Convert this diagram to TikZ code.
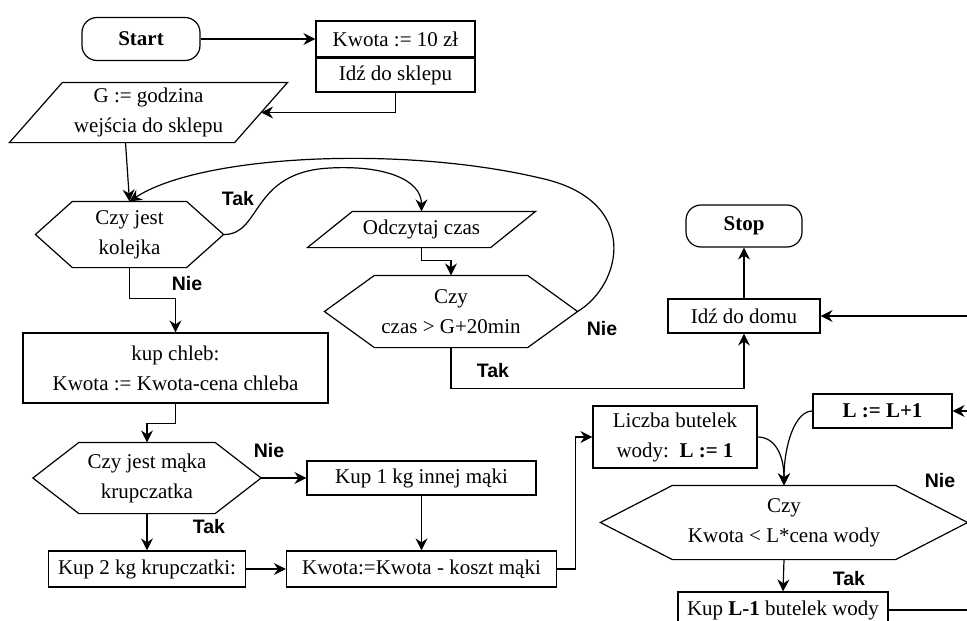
\documentclass[tikz,border=0pt]{standalone}
\usepackage{fontspec}
\setmainfont{Liberation Serif}
\newfontfamily\labelfont{Liberation Sans}
\usetikzlibrary{arrows.meta}

\tikzset{
  proc/.style={draw, rectangle, inner sep=0pt, align=center},
  term/.style={draw, rectangle, rounded corners=15pt, inner sep=0pt,
    font=\fontsize{21}{24}\selectfont\bfseries},
  txt/.style={inner sep=0pt, align=center},
  lbl/.style={inner sep=0pt, font=\labelfont\fontsize{19.5}{21}\selectfont\bfseries},
  arr/.style={-{Stealth[length=12pt, width=12pt, inset=4pt]}},
}

\begin{document}
\begin{tikzpicture}[x=1pt, y=-1pt, line width=1.2pt, font=\fontsize{21}{30}\selectfont]
    \useasboundingbox (0, 0) rectangle (967, 621);
    \clip (0, 0) rectangle (967, 621);

    % start and shopping
    \node[term, minimum width=118pt, minimum height=43pt] (start) at (141, 39) {Start};
    \node[proc, minimum width=159pt, minimum height=36pt] (kwota) at (395.5, 39) {Kwota := 10 zł};
    \node[proc, minimum width=159pt, minimum height=34pt] (sklep) at (395.5, 75) {Idź do sklepu};
    \node[txt, minimum width=277pt, minimum height=59pt] (godz) at (148.5, 112.5) {G := godzina\\wejścia do sklepu};

    % queue loop
    \node[txt, minimum width=187pt, minimum height=65pt] (kol) at (129.5, 234.5) {Czy jest\\kolejka};
    \node[txt, minimum width=227pt, minimum height=35pt] (czyt) at (421.5, 229.5) {Odczytaj czas};
    \node[txt, minimum width=252pt, minimum height=71pt] (czas) at (451, 311.5) {Czy\\czas > G+20min};
    \node[term, minimum width=116pt, minimum height=42pt] (stop) at (744, 226) {Stop};
    \node[proc, minimum width=152pt, minimum height=34pt] (dom) at (744, 316) {Idź do domu};

    % bread and flour
    \node[proc, minimum width=305pt, minimum height=70pt] (chleb) at (175.5, 368) {kup chleb:\\Kwota := Kwota-cena chleba};
    \node[txt, minimum width=227pt, minimum height=70pt] (maka) at (147, 478) {Czy jest mąka\\krupczatka};
    \node[proc, minimum width=229pt, minimum height=34pt] (inna) at (421.5, 478) {Kup 1 kg innej mąki};
    \node[proc, minimum width=197pt, minimum height=36pt] (krup) at (147, 569) {Kup 2 kg krupczatki:};
    \node[proc, minimum width=270pt, minimum height=36pt] (koszt) at (421.5, 569) {Kwota:=Kwota - koszt mąki};

    % water
    \node[proc, minimum width=164pt, minimum height=62pt] (liczba) at (675, 437) {Liczba butelek\\wody:\ \ \textbf{L := 1}};
    \node[proc, minimum width=139pt, minimum height=34pt] (inc) at (882.5, 411) {\textbf{L := L+1}};
    \node[txt, minimum width=366pt, minimum height=73pt] (woda) at (784, 522.5) {Czy\\Kwota < L*cena wody};
    \node[proc, minimum width=210pt, minimum height=36pt] (kupL) at (783, 610) {Kup \textbf{L-1} butelek wody};

    % loose ends at the right border
    \coordinate (in1) at (967, 316);
    \coordinate (in2) at (967, 411);
    \coordinate (out1) at (967, 610);

    % draw parallelograms
    \draw ([xshift=53pt]godz.north west) -- (godz.north east) -- ([xshift=-53pt]godz.south east) -- (godz.south west) -- cycle;
    \draw ([xshift=45pt]czyt.north west) -- (czyt.north east) -- ([xshift=-45pt]czyt.south east) -- (czyt.south west) -- cycle;

    % draw hexagons
    \draw ([xshift=37pt]kol.north west) -- ([xshift=-37pt]kol.north east) -- (kol.east) -- ([xshift=-37pt]kol.south east) -- ([xshift=37pt]kol.south west) -- (kol.west) -- cycle;
    \draw ([xshift=50pt]czas.north west) -- ([xshift=-50pt]czas.north east) -- (czas.east) -- ([xshift=-50pt]czas.south east) -- ([xshift=50pt]czas.south west) -- (czas.west) -- cycle;
    \draw ([xshift=46pt]maka.north west) -- ([xshift=-46pt]maka.north east) -- (maka.east) -- ([xshift=-46pt]maka.south east) -- ([xshift=46pt]maka.south west) -- (maka.west) -- cycle;
    \draw ([xshift=72pt]woda.north west) -- ([xshift=-72pt]woda.north east) -- (woda.east) -- ([xshift=-72pt]woda.south east) -- ([xshift=72pt]woda.south west) -- (woda.west) -- cycle;

    % yes / no labels
    \node[lbl] (tak1) at (238, 199) {Tak};
    \node[lbl] (nie1) at (187, 284) {Nie};
    \node[lbl] (nie2) at (602, 329) {Nie};
    \node[lbl] (tak2) at (493, 371) {Tak};
    \node[lbl] (nie3) at (269, 451) {Nie};
    \node[lbl] (tak3) at (209, 527) {Tak};
    \node[lbl] (nie4) at (940, 481) {Nie};
    \node[lbl] (tak4) at (849, 579) {Tak};

    % connectors
    \draw[arr] (start.east) -- (kwota.west);
    \draw[arr] (sklep.south) |- ([xshift=-26.5pt]godz.east);
    \draw[arr] ([xshift=-23pt]godz.south) -- (kol.north);
    \draw[arr] (kol.east) .. controls (262, 235) and (250, 172) .. (330, 168) .. controls (385, 165) and (421.5, 180) .. (czyt.north);
    \draw[arr] (czas.east) .. controls (622, 285) and (642, 200) .. (540, 178) .. controls (400, 145) and (200, 155) .. (kol.north);
    \draw[arr] (czyt.south) -- ++(0, 13) -| (czas.north);
    \draw[arr] (czas.south) -- ++(0, 41) -| (dom.south);
    \draw[arr] (dom.north) -- (stop.south);
    \draw[arr] (in1) -- (dom.east);
    \draw[arr] (kol.south) -- ++(0, 31) -| (chleb.north);
    \draw[arr] (chleb.south) -- ++(0, 20) -| (maka.north);
    \draw[arr] (maka.east) -- (inna.west);
    \draw[arr] (maka.south) -- (krup.north);
    \draw[arr] (inna.south) -- (koszt.north);
    \draw[arr] (krup.east) -- (koszt.west);
    \draw[arr] (koszt.east) -- ++(18, 0) |- (liczba.west);
    \draw[arr] (in2) -- (inc.east);
    \draw[arr] (liczba.east) .. controls (775, 437) and (784, 455) .. (woda.north);
    \draw[arr] (inc.west) .. controls (795, 411) and (784, 445) .. (woda.north);
    \draw[arr] (woda.south) -- (kupL.north);
    \draw (kupL.east) -- (out1);

\end{tikzpicture}
\end{document}
